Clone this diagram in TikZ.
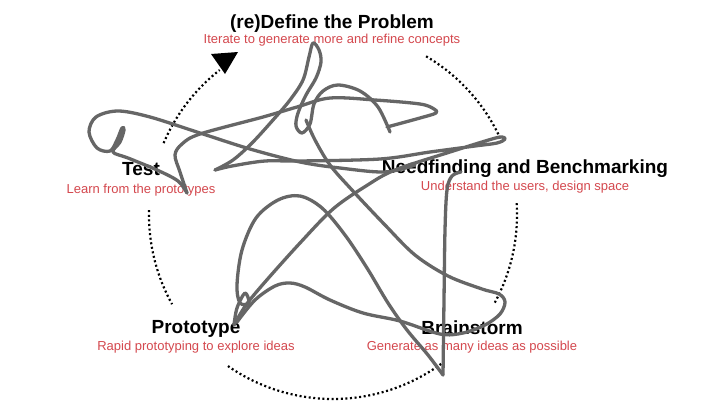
\documentclass[tikz,border=0pt]{standalone}
\usepackage{fontspec}
\setmainfont{Liberation Sans}
\definecolor{subred}{RGB}{212,72,78}
\definecolor{scrib}{RGB}{102,102,102}
\tikzset{
  ttl/.style={font=\bfseries\fontsize{19}{21}\selectfont, text=black, anchor=base, inner sep=0pt},
  sub/.style={font=\fontsize{13}{15}\selectfont, text=subred, anchor=base, inner sep=0pt},
  dotarc/.style={line width=2.2pt, dash pattern=on 2pt off 2.6pt, black},
  scribble/.style={draw=scrib, line width=3.3pt, line cap=round, line join=round}
}
\begin{document}
\begin{tikzpicture}[x=1pt,y=-1pt]
\useasboundingbox (0,0) rectangle (720,405);
\fill[white] (0,0) rectangle (720,405);
% titles
\node[ttl] (tdef) at (332,28) {(re)Define the Problem};
\node[sub] (sdef) at (332,43) {Iterate to generate more and refine concepts};
\node[ttl] (ttest) at (141,175) {Test};
\node[sub] (stest) at (141,193) {Learn from the prototypes};
\node[ttl] (tneed) at (525,173) {Needfinding and Benchmarking};
\node[sub] (sneed) at (525,190) {Understand the users, design space};
\node[ttl] (tproto) at (196,333) {Prototype};
\node[sub] (sproto) at (196,350) {Rapid prototyping to explore ideas};
\node[ttl] (tbrain) at (472,334) {Brainstorm};
\node[sub] (sbrain) at (472,350) {Generate as many ideas as possible};
% dotted cycle arcs (screen angles, y up)
\draw[dotarc] plot[domain=59.6:22.7, samples=40] ({333+184*cos(\x)}, {215-184*sin(\x)});
\draw[dotarc] plot[domain=3.7:-28.8, samples=40] ({333+184*cos(\x)}, {215-184*sin(\x)});
\draw[dotarc] plot[domain=-54:-125.6, samples=60] ({333+184*cos(\x)}, {215-184*sin(\x)});
\draw[dotarc] plot[domain=178.5:209, samples=40] ({333+184*cos(\x)}, {215-184*sin(\x)});
\draw[dotarc] plot[domain=157:128, samples=40] ({333+184*cos(\x)}, {215-184*sin(\x)});
\coordinate (ah1) at (238,52);
\coordinate (ah2) at (211,54);
\coordinate (ah3) at (225,74);
\fill[black] (ah1) -- (ah2) -- (ah3) -- cycle;
% scribble
\draw[scribble] plot[smooth, tension=0.55] coordinates {(461,172) (452,176) (447,190) (445,230) (444,300) (443,375)};
\draw[scribble] plot[smooth, tension=0.55] coordinates {(443,375) (428,355) (407,330) (388,303) (367,268) (345,235) (322,208) (300,196) (278,200) (256,218) (242,250) (237,285) (240,303) (249,303) (245,293) (237,308) (234,325)};
\draw[scribble] plot[smooth, tension=0.55] coordinates {(234,325) (246,305) (265,282) (300,243) (333,209) (366,186) (395,170) (450,152) (492,139) (502,137) (505,139) (497,143) (475,146) (430,152) (380,159) (300,161) (265,161) (232,166) (215,170)};
\draw[scribble] plot[smooth, tension=0.55] coordinates {(215,170) (233,160) (252,143) (273,120) (290,100) (303,80) (309,57) (313,43) (319,50) (321,62) (316,78) (306,95) (298,113) (296,126) (302,133) (310,124) (314,104) (323,91) (338,85) (360,91) (378,107) (390,132)};
\draw[scribble] plot[smooth, tension=0.55] coordinates {(306,120) (315,140) (330,165) (352,190) (385,225) (415,255) (448,276) (482,289) (499,294) (505,302) (500,314) (485,325) (463,333) (440,334) (400,321) (363,313) (330,300) (305,287) (290,283) (275,286) (255,300) (237,322)};
\draw[scribble] plot[smooth, tension=0.55] coordinates {(415,165) (385,172) (340,168) (300,162) (250,149) (200,133) (150,117) (118,111) (96,117) (89,132) (97,148) (110,151) (117,140) (122,128) (124,130) (120,142) (113,152) (128,158) (157,170) (178,181) (187,193)};
\draw[scribble] plot[smooth, tension=0.55] coordinates {(187,193) (180,172) (175,155) (182,144) (200,134) (263,117) (297,107) (330,98) (375,100) (420,104) (434,109) (436,113) (420,118) (387,127)};
\end{tikzpicture}
\end{document}
